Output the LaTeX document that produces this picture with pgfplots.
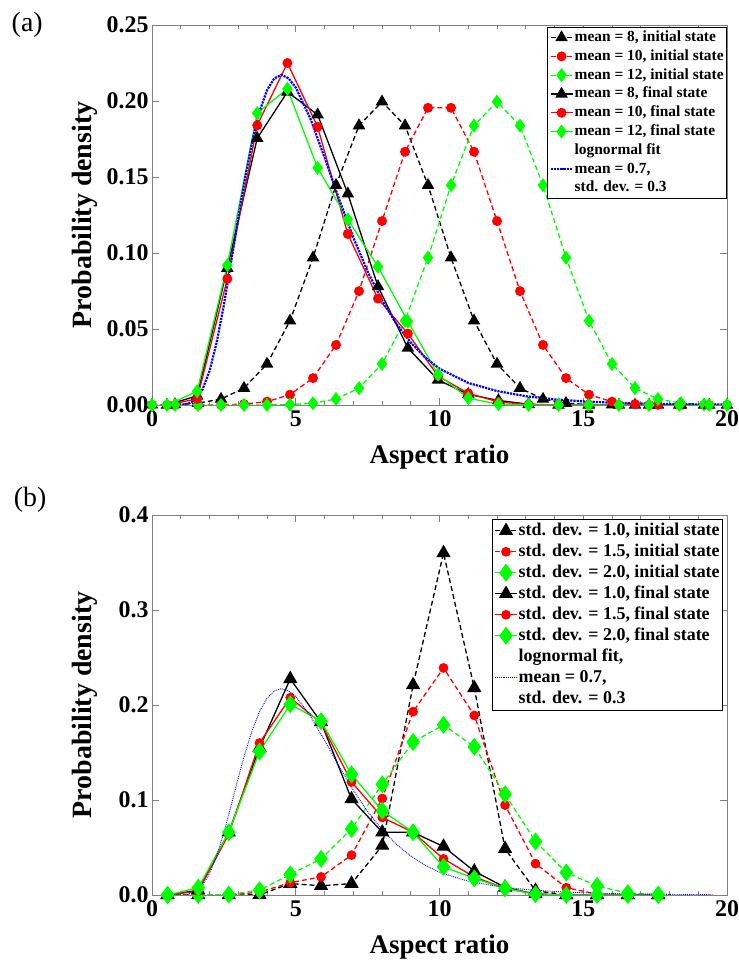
\documentclass[border=0pt]{standalone}
\usepackage{fontspec}
\setmainfont{Liberation Serif}
\usepackage{pgfplots}
\usepackage{pgfplotstable}
\pgfplotsset{compat=1.18}
\definecolor{mred}{RGB}{255,0,0}
\definecolor{mgreen}{RGB}{0,255,0}
\definecolor{mblue}{RGB}{0,0,255}
\definecolor{axgray}{RGB}{128,128,128}

% panel (a): initial states (mean 8, 10, 12)
\pgfplotstableread{
x b r g
0.0 0.0001 0.0000 0.0000
0.8 0.0003 0.0000 0.0000
1.6 0.0012 0.0000 0.0000
2.4 0.0039 0.0001 0.0000
3.2 0.0111 0.0006 0.0000
4.0 0.0270 0.0022 0.0000
4.8 0.0554 0.0068 0.0003
5.6 0.0969 0.0177 0.0012
6.4 0.1446 0.0395 0.0039
7.2 0.1838 0.0749 0.0111
8.0 0.1995 0.1210 0.0270
8.8 0.1838 0.1666 0.0554
9.6 0.1446 0.1955 0.0969
10.4 0.0969 0.1955 0.1446
11.2 0.0554 0.1666 0.1838
12.0 0.0270 0.1210 0.1995
12.8 0.0111 0.0749 0.1838
13.6 0.0039 0.0395 0.1446
14.4 0.0012 0.0177 0.0969
15.2 0.0003 0.0068 0.0554
16.0 0.0001 0.0022 0.0270
16.8 0.0000 0.0006 0.0111
17.6 0.0000 0.0001 0.0039
18.4 0.0000 0.0000 0.0012
19.2 0.0000 0.0000 0.0003
20.0 0.0000 0.0000 0.0001
}\initA

% panel (a): final states
\pgfplotstableread{
x b r g
0.52 0.0000 0.0000 0.0000
1.57 0.0060 0.0040 0.0090
2.62 0.0900 0.0830 0.0920
3.66 0.1755 0.1840 0.1920
4.71 0.2060 0.2250 0.2080
5.76 0.1910 0.1830 0.1560
6.81 0.1390 0.1125 0.1220
7.86 0.0780 0.0700 0.0910
8.90 0.0375 0.0470 0.0550
9.95 0.0165 0.0190 0.0200
11.00 0.0070 0.0077 0.0045
12.05 0.0030 0.0020 0.0005
13.10 0.0005 0.0003 0.0000
14.14 0.0000 0.0000 0.0000
15.19 0.0000 0.0000 0.0000
16.24 0.0000 0.0000 0.0000
17.29 0.0000 0.0000 0.0000
18.34 0.0000 0.0000 0.0000
19.38 0.0000 0.0000 0.0000
}\finalA

% lognormal fit
\pgfplotstableread{
x y
0.6 0.0000
1.0 0.0001
1.25 0.0007
1.5 0.0033
1.75 0.0099
2.0 0.0223
2.25 0.0412
2.5 0.0658
2.75 0.0939
3.0 0.1231
3.25 0.1507
3.5 0.1747
3.75 0.1937
4.0 0.2071
4.25 0.2148
4.5 0.2172
4.75 0.2149
5.0 0.2089
5.5 0.1888
6.0 0.1629
6.5 0.1358
7.0 0.1103
7.5 0.0878
8.0 0.0689
8.5 0.0534
9.0 0.0411
9.5 0.0313
10.0 0.0239
11.0 0.0145
12.0 0.0092
13.0 0.0058
14.0 0.0037
15.0 0.0024
16.0 0.0015
17.0 0.0010
18.0 0.0006
19.0 0.0004
20.0 0.0003
}\fitA

\pgfplotstableread{
x y
0.5 0.0000
1.0 0.0001
1.25 0.0007
1.5 0.0033
1.75 0.0099
2.0 0.0223
2.25 0.0412
2.5 0.0658
2.75 0.0939
3.0 0.1231
3.25 0.1507
3.5 0.1747
3.75 0.1937
4.0 0.2071
4.25 0.2148
4.5 0.2172
4.75 0.2149
5.0 0.2089
5.5 0.1888
6.0 0.1629
6.5 0.1358
7.0 0.1103
7.5 0.0878
8.0 0.0689
8.5 0.0534
9.0 0.0411
9.5 0.0313
10.0 0.0239
11.0 0.0145
12.0 0.0092
13.0 0.0058
14.0 0.0037
15.0 0.0024
16.0 0.0015
17.0 0.0010
18.0 0.0006
19.0 0.0004
19.5 0.0003
}\fitB

% panel (b): initial (bi ri gi) and final (bf rf gf)
\pgfplotstableread{
x bi ri gi bf rf gf
0.54 0.0000 0.0000 0.0000 0.0000 0.0000 0.0000
1.61 0.0000 0.0000 0.0000 0.0050 0.0040 0.0077
2.67 0.0000 0.0000 0.0005 0.0660 0.0640 0.0660
3.74 0.0002 0.0030 0.0050 0.1550 0.1600 0.1510
4.81 0.0120 0.0130 0.0216 0.2275 0.2077 0.2007
5.88 0.0097 0.0190 0.0380 0.1820 0.1810 0.1830
6.94 0.0120 0.0420 0.0696 0.1010 0.1190 0.1270
8.01 0.0520 0.1016 0.1165 0.0660 0.0817 0.0887
9.08 0.2210 0.1930 0.1610 0.0660 0.0660 0.0660
10.14 0.3600 0.2390 0.1790 0.0510 0.0380 0.0296
11.21 0.2180 0.1890 0.1560 0.0250 0.0190 0.0174
12.28 0.0487 0.0946 0.1060 0.0080 0.0070 0.0070
13.34 0.0045 0.0330 0.0563 0.0010 0.0010 0.0008
14.41 0.0000 0.0077 0.0237 0.0000 0.0000 0.0000
15.48 0.0000 0.0010 0.0094 0.0000 0.0000 0.0000
16.55 0.0000 0.0000 0.0020 0.0000 0.0000 0.0000
17.61 0.0000 0.0000 0.0003 0.0000 0.0000 0.0000
}\tabB

\pgfplotsset{
  panel/.style={
    scale only axis, width=575bp, height=380bp,
    xmin=0, xmax=20, xtick={0,5,10,15,20}, minor x tick num=4,
    tick align=inside,
    axis line style={axgray, line width=0.8bp},
    every tick/.style={axgray, line width=0.8bp},
    major tick length=7bp, minor tick length=4bp,
    tick label style={font=\fontsize{24}{24}\selectfont\bfseries, black},
    xticklabel style={yshift=-2.5bp},
    /pgf/number format/assume math mode=true,
    xlabel={Aspect ratio}, ylabel={Probability density},
    every axis x label/.style={at={(axis description cs:0.5,-0.137)}, anchor=center,
      font=\fontsize{27}{27}\selectfont\bfseries},
    every axis y label/.style={at={(axis description cs:-0.1165,0.5)}, anchor=center, rotate=90,
      font=\fontsize{28}{28}\selectfont\bfseries},
    legend cell align=left,
    legend image code/.code={\draw[mark repeat=2,mark phase=2] plot coordinates {(0bp,0bp) (11bp,0bp) (22bp,0bp)};},
  },
  dsh/.style={dash pattern=on 5bp off 3bp, line width=1.3bp},
  sld/.style={solid, line width=1.3bp},
}

\begin{document}
\begin{tikzpicture}
\useasboundingbox (0,0) rectangle (739bp,969bp);

% ---------------- panel (a)
\begin{axis}[panel,
  at={(152bp,564bp)}, anchor=south west,
  ymin=0, ymax=0.25, ytick={0,0.05,...,0.25},
  yticklabel style={/pgf/number format/.cd, fixed, fixed zerofill, precision=2},
  legend style={at={(rel axis cs:1,0.995)}, anchor=north east, draw=black, line width=0.6bp,
    fill=white, font=\fontsize{15.5}{18}\selectfont\bfseries, inner xsep=2bp, inner ysep=1bp,
    nodes={text height=12bp, text depth=4bp, inner ysep=1.4bp, inner xsep=1bp}},
  after end axis/.code={\node[font=\fontsize{28}{28}\selectfont] at (rel axis cs:-0.217,1.0) {(a)};},
]
\addplot[black, dsh, mark=triangle*, mark size=6bp, mark options={solid}] table[x=x,y=b] {\initA};
\addlegendentry{mean = 8, initial state}
\addplot[mred, dsh, mark=*, mark size=4.3bp, mark options={solid}] table[x=x,y=r] {\initA};
\addlegendentry{mean = 10, initial state}
\addplot[mgreen, dsh, mark=diamond*, mark size=6bp, mark options={solid}] table[x=x,y=g] {\initA};
\addlegendentry{mean = 12, initial state}
\addplot[black, sld, mark=triangle*, mark size=6bp] table[x=x,y=b] {\finalA};
\addlegendentry{mean = 8, final state}
\addplot[mred, sld, mark=*, mark size=4.3bp] table[x=x,y=r] {\finalA};
\addlegendentry{mean = 10, final state}
\addplot[mgreen, sld, mark=diamond*, mark size=6bp] table[x=x,y=g] {\finalA};
\addlegendentry{mean = 12, final state}
\addlegendimage{empty legend}
\addlegendentry{lognormal fit}
\addplot[mblue, densely dotted, line width=2.2bp, no marks] table[x=x,y=y] {\fitA};
\addlegendentry{mean = 0.7,}
\addlegendimage{empty legend}
\addlegendentry{std. dev. = 0.3}
\end{axis}

% ---------------- panel (b)
\begin{axis}[panel,
  at={(152bp,74bp)}, anchor=south west,
  ymin=0, ymax=0.4, ytick={0,0.1,...,0.4},
  yticklabel style={/pgf/number format/.cd, fixed, fixed zerofill, precision=1},
  legend style={at={(rel axis cs:0.993,0.9895)}, anchor=north east, draw=black, line width=0.6bp,
    fill=white, font=\fontsize{18}{21}\selectfont\bfseries, inner xsep=2bp, inner ysep=1bp,
    nodes={text height=14bp, text depth=5bp, inner ysep=1bp, inner xsep=1bp}},
  after end axis/.code={\node[font=\fontsize{28}{28}\selectfont] at (rel axis cs:-0.212,1.039) {(b)};},
]
\addplot[black, dsh, mark=triangle*, mark size=7bp, mark options={solid}] table[x=x,y=bi] {\tabB};
\addlegendentry{std. dev. = 1.0, initial state}
\addplot[mred, dsh, mark=*, mark size=4.2bp, mark options={solid}] table[x=x,y=ri] {\tabB};
\addlegendentry{std. dev. = 1.5, initial state}
\addplot[mgreen, dsh, mark=diamond*, mark size=8bp, mark options={solid}] table[x=x,y=gi] {\tabB};
\addlegendentry{std. dev. = 2.0, initial state}
\addplot[black, sld, mark=triangle*, mark size=7bp] table[x=x,y=bf] {\tabB};
\addlegendentry{std. dev. = 1.0, final state}
\addplot[mred, sld, mark=*, mark size=4.2bp] table[x=x,y=rf] {\tabB};
\addlegendentry{std. dev. = 1.5, final state}
\addplot[mgreen, sld, mark=diamond*, mark size=8bp] table[x=x,y=gf] {\tabB};
\addlegendentry{std. dev. = 2.0, final state}
\addlegendimage{empty legend}
\addlegendentry{lognormal fit,}
\addplot[mblue, densely dotted, line width=0.9bp, no marks] table[x=x,y=y] {\fitB};
\addlegendentry{mean = 0.7,}
\addlegendimage{empty legend}
\addlegendentry{std. dev. = 0.3}
\end{axis}
\end{tikzpicture}
\end{document}
